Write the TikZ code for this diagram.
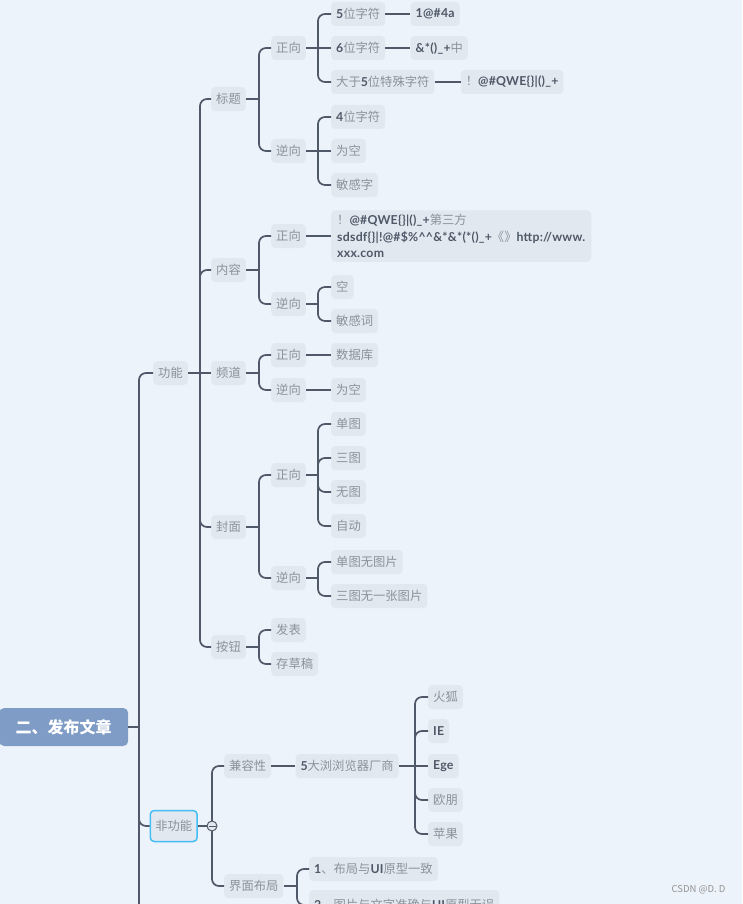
\documentclass[tikz,border=0pt]{standalone}
\usepackage{fontspec}
\setmainfont{Noto Sans CJK SC}
\newfontfamily\latf{Lato}[LetterSpace=2]
\usetikzlibrary{positioning}
\definecolor{bgc}{HTML}{EDF3FA}
\definecolor{ndc}{HTML}{E2E8EF}
\definecolor{lnc}{HTML}{4F5969}
\definecolor{cjkc}{HTML}{8A929C}
\definecolor{latc}{HTML}{4E5867}
\definecolor{rootc}{HTML}{7E9CC5}
\definecolor{selc}{HTML}{45BDF5}
\newcommand\lt[1]{{\latf\bfseries\color{latc}#1}}
\tikzset{
  nd/.style={fill=ndc, rounded corners=4pt, inner xsep=5pt, inner ysep=0pt,
    minimum height=24pt, font=\fontsize{12.3}{14}\selectfont, text=cjkc, anchor=west},
  conn/.style={draw=lnc, line width=1.7pt, rounded corners=7pt},
  rootbox/.style={fill=rootc, rounded corners=5pt, minimum width=129pt, minimum height=38pt,
    text=white, font=\fontsize{16}{18}\selectfont\bfseries, anchor=west},
  node distance=24pt
}
\begin{document}
\begin{tikzpicture}[x=1pt,y=-1pt]
\useasboundingbox (0,0) rectangle (742,904);
\clip (0,0) rectangle (742,904);
\fill[bgc] (0,0) rectangle (742,904);

% root
\node[rootbox] (root) at (-1,727) {二、发布文章};

% level 1
\node[nd] (gn) at (153,373) {功能};
\node[nd, fill=ndc, draw=selc, line width=1.5pt, minimum height=31pt, inner xsep=5pt] (fgn) at (149.5,826) {非功能};

% functional children
\node[nd] (bt) at (211,99) {标题};
\node[nd] (nr) at (211,270) {内容};
\node[nd] (pd) at (211,373) {频道};
\node[nd] (fm) at (211,527) {封面};
\node[nd] (an) at (211,647) {按钮};

% 标题
\node[nd] (btz) at (271,48) {正向};
\node[nd] (btn) at (271,151) {逆向};
\node[nd] (c5) at (331,14) {\lt{5}位字符};
\node[nd] (c6) at (331,48) {\lt{6}位字符};
\node[nd] (cg) at (331,82) {大于\lt{5}位特殊字符};
\node[nd, right=25pt of c5] (v5) {\lt{1@\#4a}};
\node[nd, right=25pt of c6] (v6) {\lt{\&*()\_+}中};
\node[nd, right=26pt of cg] (vg) {！\lt{@\#QWE\{\}|()\_+}};
\node[nd] (c4) at (331,117) {\lt{4}位字符};
\node[nd] (ck) at (331,151) {为空};
\node[nd] (cm) at (331,185) {敏感字};

% 内容
\node[nd] (nrz) at (271,236) {正向};
\node[nd] (nrn) at (271,304) {逆向};
\node[nd, align=left, inner xsep=6pt, inner ysep=4pt, font=\fontsize{12.3}{16.5}\selectfont] (big) at (331,236)
  {！\lt{@\#QWE\{\}|()\_+}第三方\\
   \lt{sdsdf\{\}|!@\#\$\%\textasciicircum\textasciicircum\&*\&*(*()\_+}《》\lt{http://www.}\\
   \lt{xxx.com}};
\node[nd] (nk) at (331,287) {空};
\node[nd] (nm) at (331,321) {敏感词};

% 频道
\node[nd] (pdz) at (271,355) {正向};
\node[nd] (pdn) at (271,390) {逆向};
\node[nd] (sj) at (331,355) {数据库};
\node[nd] (pk) at (331,390) {为空};

% 封面
\node[nd] (fmz) at (271,475) {正向};
\node[nd] (fmn) at (271,578) {逆向};
\node[nd] (f1) at (331,424) {单图};
\node[nd] (f3) at (331,458) {三图};
\node[nd] (f0) at (331,492) {无图};
\node[nd] (fa) at (331,526) {自动};
\node[nd] (fn1) at (331,562) {单图无图片};
\node[nd] (fn3) at (331,596) {三图无一张图片};

% 按钮
\node[nd] (fb) at (271,630) {发表};
\node[nd] (cc) at (271,664) {存草稿};

% non-functional
\node[nd] (jr) at (224,766) {兼容性};
\node[nd] (jm) at (224,886) {界面布局};
\node[nd, right=24pt of jr] (llq) {\lt{5}大浏浏览器厂商};
\node[nd] (b1) at (428,697) {火狐};
\node[nd] (b2) at (428,731) {\lt{IE}};
\node[nd] (b3) at (428,766) {\lt{Ege}};
\node[nd] (b4) at (428,800) {欧朋};
\node[nd] (b5) at (428,834) {苹果};
\node[nd] (u1) at (309,869) {\lt{1}、布局与\lt{UI}原型一致};
\node[nd, minimum height=30pt] (u2) at (309,905) {\lt{2}、图片与文字准确与\lt{UI}原型无误};

% watermark
\node[anchor=east, text=gray!85, font=\fontsize{9.5}{11}\selectfont] (wm) at (729,890) {CSDN @D. D};

% ---- connectors ----
\draw[conn] (root.east) -- (139,727) coordinate (jr0);
\draw[conn] (jr0) |- (gn.west);
\draw[conn] (jr0) |- (fgn.west);
\draw[conn] (jr0) -- (139,910) coordinate (jrend);

\draw[conn] (gn.east) -- (200,373) coordinate (jgn);
\foreach \c in {bt,nr,an,fm} \draw[conn] (jgn) |- (\c.west);
\draw[conn] (jgn) -- (pd.west);

\draw[conn] (bt.east) -- (259,99) coordinate (jbt);
\foreach \c in {btz,btn} \draw[conn] (jbt) |- (\c.west);
\draw[conn] (btz.east) -- (318,48) coordinate (jbtz);
\foreach \c in {c5,cg} \draw[conn] (jbtz) |- (\c.west);
\draw[conn] (jbtz) -- (c6.west);
\draw[conn] (c5) -- (v5);
\draw[conn] (c6) -- (v6);
\draw[conn] (cg) -- (vg);
\draw[conn] (btn.east) -- (318,151) coordinate (jbtn);
\foreach \c in {c4,cm} \draw[conn] (jbtn) |- (\c.west);
\draw[conn] (jbtn) -- (ck.west);

\draw[conn] (nr.east) -- (259,270) coordinate (jnr);
\foreach \c in {nrz,nrn} \draw[conn] (jnr) |- (\c.west);
\draw[conn] (nrz) -- (big);
\draw[conn] (nrn.east) -- (318,304) coordinate (jnrn);
\foreach \c in {nk,nm} \draw[conn] (jnrn) |- (\c.west);

\draw[conn] (pd.east) -- (259,373) coordinate (jpd);
\foreach \c in {pdz,pdn} \draw[conn] (jpd) |- (\c.west);
\draw[conn] (pdz) -- (sj);
\draw[conn] (pdn) -- (pk);

\draw[conn] (fm.east) -- (259,527) coordinate (jfm);
\foreach \c in {fmz,fmn} \draw[conn] (jfm) |- (\c.west);
\draw[conn] (fmz.east) -- (318,475) coordinate (jfmz);
\foreach \c in {f1,f3,f0,fa} \draw[conn] (jfmz) |- (\c.west);
\draw[conn] (fmn.east) -- (318,578) coordinate (jfmn);
\foreach \c in {fn1,fn3} \draw[conn] (jfmn) |- (\c.west);

\draw[conn] (an.east) -- (259,647) coordinate (jan);
\foreach \c in {fb,cc} \draw[conn] (jan) |- (\c.west);

\draw[conn] (fgn.east) -- (212,826) coordinate (jfgn);
\foreach \c in {jr,jm} \draw[conn] (jfgn) |- (\c.west);
\draw[conn] (jr) -- (llq);
\draw[conn] (llq.east) -- (415,766) coordinate (jllq);
\foreach \c in {b1,b2,b4,b5} \draw[conn] (jllq) |- (\c.west);
\draw[conn] (jllq) -- (b3.west);
\draw[conn] (jm.east) -- (297,886) coordinate (jjm);
\foreach \c in {u1,u2} \draw[conn] (jjm) |- (\c.west);

% collapse marker
\node[circle, draw=lnc, fill=ndc, line width=1pt, minimum size=10pt, inner sep=0pt] (col) at (212,826) {};
\draw[lnc, line width=1pt] ([xshift=2pt]col.west) -- ([xshift=-2pt]col.east);
\end{tikzpicture}
\end{document}
